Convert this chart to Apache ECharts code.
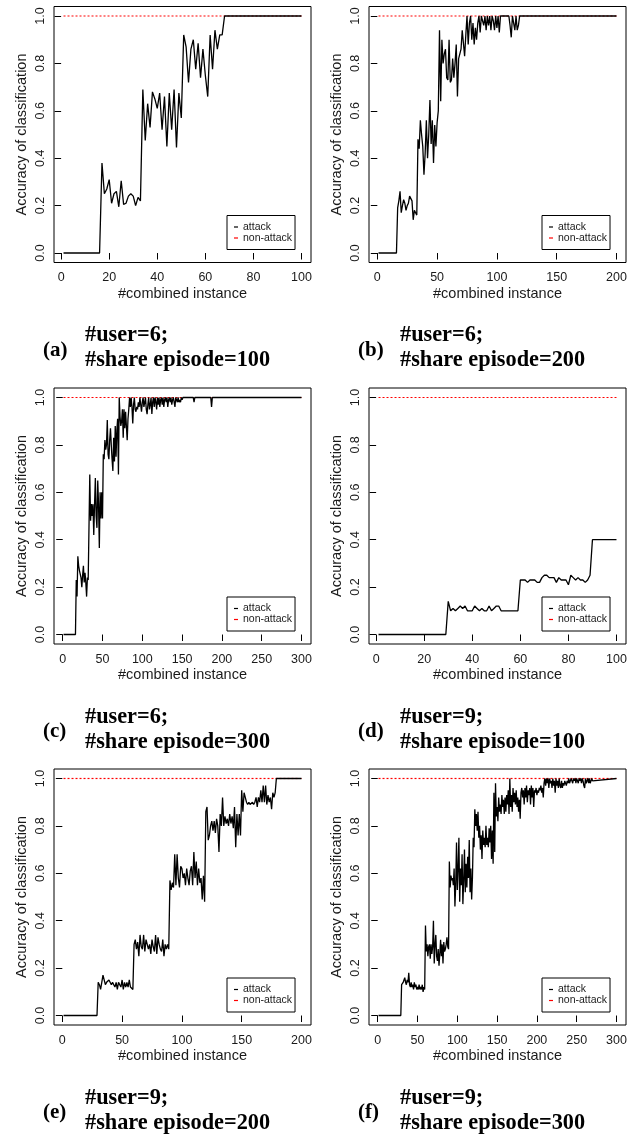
<!DOCTYPE html>
<html>
<head>
<meta charset="utf-8">
<script src="https://cdn.jsdelivr.net/npm/echarts@6/dist/echarts.min.js"></script>
<style>
html,body{margin:0;padding:0;background:#fff;}
#chart{width:633px;height:1137px;}
</style>
</head>
<body>
<div id="chart"></div>
<script>
// ---------------- DATA ----------------
const panelLabels = ['(a)', '(b)', '(c)', '(d)', '(e)', '(f)'];
const panelCaptions = [
  '#user=6;\n#share episode=100',
  '#user=6;\n#share episode=200',
  '#user=6;\n#share episode=300',
  '#user=9;\n#share episode=100',
  '#user=9;\n#share episode=200',
  '#user=9;\n#share episode=300'
];
const instanceCounts = [100, 200, 300, 100, 200, 300];
const xTicks100 = [0, 20, 40, 60, 80, 100];
const xTicks200 = [0, 50, 100, 150, 200];
const xTicks300 = [0, 50, 100, 150, 200, 250, 300];
const yTicks = [0, 0.2, 0.4, 0.6, 0.8, 1.0];
const seriesNames = ['attack', 'non-attack'];

// attack accuracy: [x, y] breakpoints (flat stretches are given by their end points)
const attackA = [[1,0],[16,0],[17,0.38],[18,0.25],[19,0.27],[20,0.31],[21,0.21],[22,0.25],[23,0.26],[24,0.195],[25,0.305],[26,0.205],[27,0.21],[28,0.24],[29,0.25],[30,0.24],[31,0.20],[32,0.235],[33,0.22],
  [34,0.69],[35,0.475],[36,0.63],[37,0.53],[38,0.68],[39,0.65],[40,0.61],[41,0.675],[42,0.52],[43,0.66],[44,0.45],[45,0.675],[46,0.52],[47,0.69],[48,0.445],[49,0.675],[50,0.57],
  [51,0.92],[52,0.87],[53,0.72],[54,0.86],[55,0.90],[56,0.775],[57,0.885],[58,0.74],[59,0.86],[60,0.75],[61,0.66],[62,0.92],[63,0.775],[64,0.94],[65,0.86],[66,0.92],[67,0.92],[68,1.0],[100,1.0]];

const attackB = [[1,0],[16,0],[17,0.19],[18,0.22],[19,0.26],[20,0.17],[21,0.20],[22,0.225],[23,0.21],[24,0.18],[25,0.20],[26,0.21],[27,0.24],[28,0.24],[29,0.22],[30,0.14],[31,0.18],[32,0.17],[33,0.16],
  [34,0.48],[35,0.44],[36,0.56],[37,0.50],[38,0.45],[39,0.33],[40,0.42],[41,0.56],[42,0.40],[43,0.50],[44,0.645],[45,0.46],[46,0.56],[47,0.38],[48,0.54],[49,0.45],[50,0.55],[51,0.60],
  [52,0.94],[53,0.64],[54,0.90],[55,0.80],[56,0.84],[57,0.86],[58,0.74],[59,0.73],[60,0.90],[61,0.72],[62,0.73],[63,0.82],[64,0.74],[65,0.80],[66,0.88],[67,0.66],[68,0.82],[69,0.82],[70,0.86],
  [71,0.94],[72,0.94],[73,0.83],[74,0.92],[75,1.0],[76,0.88],[77,0.97],[78,1.0],[79,0.90],[80,0.97],[81,0.88],[82,0.95],[83,0.90],[84,0.97],[85,1.0],[86,0.93],[87,1.0],[88,0.98],[89,0.96],[90,1.0],
  [91,0.94],[92,1.0],[93,0.96],[94,1.0],[95,0.94],[96,1.0],[97,0.98],[98,0.94],[99,1.0],[100,0.95],[101,1.0],[102,0.93],[103,1.0],[110,1.0],[111,0.96],[112,0.91],[113,1.0],[114,0.97],[115,0.94],[116,1.0],[117,0.94],[118,0.96],[119,1.0],[200,1.0]];

const attackC = [[1,0],[16,0],[17,0.23],[18,0.16],[19,0.33],[20,0.29],[21,0.27],[22,0.27],[23,0.24],[24,0.20],[25,0.25],[26,0.29],[27,0.22],[28,0.26],[29,0.22],[30,0.16],[31,0.24],[32,0.23],[33,0.23],
  [34,0.675],[35,0.48],[36,0.55],[37,0.50],[38,0.55],[39,0.42],[40,0.55],[41,0.66],[42,0.50],[43,0.45],[44,0.65],[45,0.55],[46,0.365],[47,0.60],[48,0.49],[49,0.60],[50,0.49],
  [51,0.76],[52,0.74],[53,0.82],[54,0.78],[55,0.80],[56,0.905],[57,0.76],[58,0.74],[59,0.82],[60,0.87],[61,0.80],[62,0.74],[63,0.69],[64,0.83],[65,0.73],[66,0.88],[67,0.75],[68,0.86],[69,0.91],[70,0.675],
  [71,1.0],[72,0.92],[73,0.88],[74,0.90],[75,0.95],[76,0.83],[77,0.95],[78,0.87],[79,0.94],[80,0.88],[81,0.82],[82,0.91],[83,0.95],[84,1.0],[85,0.96],[86,1.0],[87,0.96],[88,0.89],[89,0.97],[90,1.0],
  [91,0.95],[92,0.94],[93,0.96],[94,0.95],[95,0.98],[96,0.96],[97,1.0],[98,0.97],[99,0.94],[100,0.98],[101,1.0],[102,0.96],[103,0.98],[104,1.0],[105,0.95],[106,0.93],[107,0.97],[108,1.0],[109,0.95],[110,0.97],
  [111,1.0],[112,0.93],[113,0.98],[114,1.0],[115,0.96],[116,1.0],[117,0.98],[118,0.95],[119,1.0],[120,0.97],[121,1.0],[122,0.96],[123,0.99],[124,1.0],[125,0.97],[126,1.0],[127,0.96],[128,0.99],[129,1.0],[130,0.98],
  [131,1.0],[132,0.96],[133,0.99],[134,1.0],[135,0.98],[136,1.0],[137,0.97],[138,0.99],[139,1.0],[140,0.98],[141,0.96],[142,1.0],[143,0.99],[144,0.98],[145,1.0],[146,0.98],[147,0.99],[148,0.98],[149,1.0],[150,0.99],
  [151,1.0],[164,1.0],[165,0.98],[166,1.0],[186,1.0],[187,0.96],[188,1.0],[300,1.0]];

const attackD = [[1,0],[29,0],[30,0.14],[31,0.10],[32,0.11],[33,0.10],[34,0.11],[35,0.12],[36,0.11],[37,0.12],[38,0.10],[39,0.10],[40,0.10],[41,0.12],[42,0.11],[43,0.10],[44,0.11],[45,0.10],[46,0.10],[47,0.12],[48,0.10],[49,0.11],[50,0.12],[51,0.12],[52,0.10],[59,0.10],
  [60,0.23],[61,0.23],[62,0.23],[63,0.22],[64,0.23],[65,0.23],[66,0.23],[67,0.22],[68,0.22],[69,0.24],[70,0.25],[71,0.25],[72,0.24],[73,0.24],[74,0.24],[75,0.22],[76,0.24],[77,0.23],[78,0.23],[79,0.23],[80,0.21],[81,0.25],[82,0.24],[83,0.23],[84,0.24],[85,0.23],[86,0.23],[87,0.22],[88,0.23],[89,0.25],
  [90,0.40],[100,0.40]];

const attackE = [[1,0],[29,0],[30,0.14],[31,0.13],[32,0.11],[33,0.14],[34,0.17],[35,0.15],[36,0.13],[37,0.14],[38,0.14],[39,0.15],[40,0.15],[41,0.13],[42,0.14],[43,0.13],[44,0.12],[45,0.14],[46,0.11],[47,0.14],[48,0.13],[49,0.12],[50,0.15],[51,0.11],[52,0.14],[53,0.12],[54,0.14],[55,0.12],[56,0.15],[57,0.12],[58,0.12],[59,0.11],
  [60,0.30],[61,0.32],[62,0.28],[63,0.31],[64,0.25],[65,0.34],[66,0.29],[67,0.28],[68,0.34],[69,0.27],[70,0.32],[71,0.30],[72,0.28],[73,0.30],[74,0.26],[75,0.32],[76,0.29],[77,0.27],[78,0.34],[79,0.26],[80,0.33],[81,0.30],[82,0.28],[83,0.27],[84,0.32],[85,0.25],[86,0.30],[87,0.28],[88,0.30],[89,0.28],
  [90,0.57],[91,0.53],[92,0.56],[93,0.54],[94,0.68],[95,0.55],[96,0.68],[97,0.58],[98,0.54],[99,0.63],[100,0.62],[101,0.58],[102,0.60],[103,0.55],[104,0.62],[105,0.58],[106,0.55],[107,0.61],[108,0.63],[109,0.55],[110,0.69],[111,0.58],[112,0.65],[113,0.55],[114,0.62],[115,0.56],[116,0.58],[117,0.49],[118,0.59],[119,0.48],
  [120,0.86],[121,0.88],[122,0.74],[123,0.76],[124,0.80],[125,0.82],[126,0.78],[127,0.82],[128,0.77],[129,0.83],[130,0.80],[131,0.69],[132,0.85],[133,0.80],[134,0.92],[135,0.80],[136,0.84],[137,0.81],[138,0.83],[139,0.80],[140,0.85],[141,0.81],[142,0.84],[143,0.79],[144,0.88],[145,0.71],[146,0.85],[147,0.76],[148,0.85],[149,0.76],
  [150,0.95],[151,0.86],[152,0.94],[153,0.92],[154,0.90],[155,0.89],[156,0.90],[157,0.89],[158,0.89],[159,0.90],[160,0.89],[161,0.90],[162,0.92],[163,0.88],[164,0.92],[165,0.90],[166,0.95],[167,0.90],[168,0.97],[169,0.90],[170,0.97],[171,0.89],[172,0.93],[173,0.90],[174,0.92],[175,0.87],[176,0.94],[177,0.92],[178,0.94],
  [179,1.0],[200,1.0]];

const attackF = [[1,0],[29,0],[30,0.13],[31,0.13],[32,0.14],[33,0.15],[34,0.16],[35,0.14],[36,0.13],[37,0.15],[38,0.14],[39,0.18],[40,0.13],[41,0.12],[42,0.14],[43,0.12],[44,0.13],[45,0.11],[46,0.14],[47,0.12],[48,0.13],[49,0.11],[50,0.12],[51,0.11],[52,0.13],[53,0.11],[54,0.12],[55,0.11],[56,0.13],[57,0.10],[58,0.12],[59,0.11],
  [60,0.38],[61,0.27],[62,0.30],[63,0.25],[64,0.29],[65,0.30],[66,0.24],[67,0.30],[68,0.26],[69,0.29],[70,0.40],[71,0.22],[72,0.30],[73,0.34],[74,0.25],[75,0.23],[76,0.28],[77,0.21],[78,0.26],[79,0.32],[80,0.25],[81,0.30],[82,0.22],[83,0.31],[84,0.27],[85,0.28],[86,0.30],[87,0.33],[88,0.29],[89,0.28],
  [90,0.65],[91,0.54],[92,0.59],[93,0.57],[94,0.58],[95,0.55],[96,0.62],[97,0.46],[98,0.55],[99,0.73],[100,0.53],[101,0.62],[102,0.75],[103,0.48],[104,0.62],[105,0.55],[106,0.68],[107,0.47],[108,0.57],[109,0.70],[110,0.52],[111,0.64],[112,0.54],[113,0.67],[114,0.58],[115,0.74],[116,0.52],[117,0.62],[118,0.49],[119,0.58],
  [120,0.75],[121,0.71],[122,0.87],[123,0.80],[124,0.85],[125,0.78],[126,0.86],[127,0.75],[128,0.80],[129,0.70],[130,0.76],[131,0.66],[132,0.78],[133,0.72],[134,0.75],[135,0.71],[136,0.80],[137,0.72],[138,0.75],[139,0.71],[140,0.79],[141,0.73],[142,0.80],[143,0.66],[144,0.78],[145,0.64],[146,0.94],[147,0.69],[148,0.98],[149,0.84],
  [150,0.88],[151,0.82],[152,0.92],[153,0.86],[154,0.89],[155,0.85],[156,0.93],[157,0.88],[158,0.91],[159,0.85],[160,0.92],[161,0.86],[162,0.93],[163,0.89],[164,0.95],[165,0.85],[166,1.0],[167,0.88],[168,0.93],[169,0.86],[170,0.96],[171,0.90],[172,0.94],[173,0.89],[174,0.95],[175,0.88],[176,0.92],[177,0.86],[178,0.91],[179,0.83],
  [180,0.94],[181,0.96],[182,0.92],[183,0.95],[184,0.89],[185,0.96],[186,0.92],[187,0.97],[188,0.90],[189,0.95],[190,0.93],[191,0.96],[192,0.89],[193,0.97],[194,0.92],[195,0.96],[196,0.88],[197,0.95],[198,0.94],[199,0.96],[200,0.93],[201,0.95],[202,0.94],[203,0.96],[204,0.95],[205,0.97],[206,0.94],[207,0.96],[208,0.92],[209,0.98],
  [210,1.0],[211,0.97],[212,1.0],[213,0.98],[214,1.0],[215,0.96],[216,1.0],[217,0.98],[218,0.99],[219,0.96],[220,1.0],[221,0.97],[222,0.99],[223,0.94],[224,1.0],[225,0.97],[226,0.99],[227,0.96],[228,1.0],[229,0.97],[230,0.96],[231,0.99],[232,0.96],[233,0.98],[234,0.97],[235,0.99],[236,0.98],[237,0.97],[238,0.99],[239,0.98],
  [240,1.0],[241,0.98],[242,0.99],[243,1.0],[244,0.99],[245,0.98],[246,1.0],[247,0.99],[248,1.0],[249,0.98],[250,1.0],[251,0.99],[252,0.98],[253,1.0],[254,0.99],[255,1.0],[256,0.98],[257,1.0],[258,0.99],[259,0.97],[260,0.96],[261,1.0],[262,0.98],[263,0.99],[264,1.0],[265,0.98],[266,1.0],[267,0.98],[268,0.99],[269,1.0],[270,0.99],[300,1.0]];

// non-attack accuracy: constant 1.0 over the whole range
const nonAttackA = [[1,1.0],[100,1.0]];
const nonAttackB = [[1,1.0],[200,1.0]];
const nonAttackC = [[1,1.0],[300,1.0]];
const nonAttackD = [[1,1.0],[100,1.0]];
const nonAttackE = [[1,1.0],[200,1.0]];
const nonAttackF = [[1,1.0],[300,1.0]];

const attackData = [attackA, attackB, attackC, attackD, attackE, attackF];
const nonAttackData = [nonAttackA, nonAttackB, nonAttackC, nonAttackD, nonAttackE, nonAttackF];
const xTickSets = [xTicks100, xTicks200, xTicks300, xTicks100, xTicks200, xTicks300];

// ---------------- LAYOUT ----------------
const colLeft = [54, 369];
const rowTop = [6.5, 388, 769];
const gridW = 257, gridH = 256;
const SANS = 'Liberation Sans, Arial, Helvetica, sans-serif';
const SERIF = 'Liberation Serif, Times New Roman, serif';
const INK = '#1a1a1a';

const grids = [], xAxes = [], yAxes = [], series = [], legends = [], titles = [];
for (let i = 0; i < 6; i++) {
  const col = i % 2, row = Math.floor(i / 2);
  const L = colLeft[col], T = rowTop[row];
  const N = instanceCounts[i];
  const pad = 0.04 * (N - 1);
  grids.push({left: L, top: T, width: gridW, height: gridH, show: true, borderColor: '#000', borderWidth: 1, backgroundColor: 'transparent', containLabel: false});
  xAxes.push({
    type: 'value', gridIndex: i, min: 1 - pad, max: N + pad,
    axisLine: {show: false},
    splitLine: {show: false},
    axisTick: {show: true, length: 6.5, inside: false, customValues: xTickSets[i], lineStyle: {color: '#000', width: 1}},
    axisLabel: {show: true, customValues: xTickSets[i], margin: 9, fontSize: 12.5, fontFamily: SANS, color: INK, hideOverlap: false, showMinLabel: true, showMaxLabel: true},
    name: '#combined instance', nameLocation: 'middle', nameGap: 23.5,
    nameTextStyle: {fontSize: 14.5, fontFamily: SANS, color: INK}
  });
  yAxes.push({
    type: 'value', gridIndex: i, min: -0.04, max: 1.04,
    axisLine: {show: false},
    splitLine: {show: false},
    axisTick: {show: true, length: 6.5, inside: false, customValues: yTicks, lineStyle: {color: '#000', width: 1}},
    axisLabel: {show: true, customValues: yTicks, rotate: 90, margin: 6.5, fontSize: 12.5, fontFamily: SANS, color: INK,
      formatter: v => Number(v).toFixed(1)},
    name: 'Accuracy of classification', nameLocation: 'middle', nameGap: 25, nameRotate: 90,
    nameTextStyle: {fontSize: 14.5, fontFamily: SANS, color: INK}
  });
  series.push({
    name: seriesNames[1], type: 'line', xAxisIndex: i, yAxisIndex: i, data: nonAttackData[i],
    showSymbol: false, symbol: 'none', color: '#ff0000', itemStyle: {color: '#ff0000'},
    lineStyle: {color: '#ff0000', width: 1.2, type: [2, 2]}, z: 2, animation: false, silent: true
  });
  series.push({
    name: seriesNames[0], type: 'line', xAxisIndex: i, yAxisIndex: i, data: attackData[i],
    showSymbol: false, symbol: 'none', color: '#000', itemStyle: {color: '#000'},
    lineStyle: {color: '#000', width: 1.3}, z: 3, animation: false, silent: true
  });
  legends.push({
    left: L + 173, top: T + 209, orient: 'vertical', data: seriesNames,
    icon: 'rect', itemWidth: 4, itemHeight: 1.2, itemGap: 0,
    padding: [6, 3, 6, 7], borderColor: '#000', borderWidth: 1, backgroundColor: '#fff',
    selectedMode: false,
    textStyle: {fontSize: 10.5, lineHeight: 11, fontFamily: SANS, color: INK, padding: [0, 0, 0, 0]}
  });
  const capBase = T + 328.5;
  titles.push({text: panelLabels[i], left: colLeft[col] - 11, top: capBase + 3, padding: 0,
    textStyle: {fontSize: 21, fontWeight: 'bold', fontFamily: SERIF, color: '#000', lineHeight: 25}});
  titles.push({text: panelCaptions[i], left: colLeft[col] + 31, top: capBase - 12, padding: 0,
    textStyle: {fontSize: 22.3, fontWeight: 'bold', fontFamily: SERIF, color: '#000', lineHeight: 25}});
}

const chart = echarts.init(document.getElementById('chart'), null, {renderer: 'canvas'});
chart.setOption({
  backgroundColor: '#fff',
  animation: false,
  title: titles,
  legend: legends,
  grid: grids,
  xAxis: xAxes,
  yAxis: yAxes,
  series: series
});
</script>
</body>
</html>
